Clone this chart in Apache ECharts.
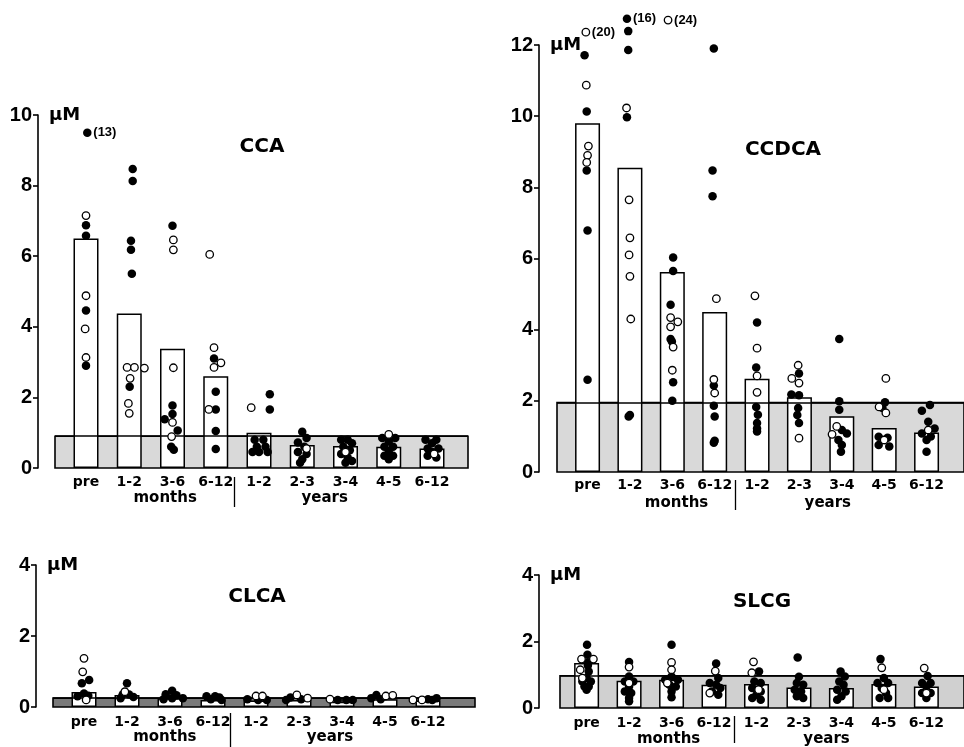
<!DOCTYPE html>
<html><head><meta charset="utf-8">
<script src="https://cdn.jsdelivr.net/npm/echarts@6/dist/echarts.min.js"></script>
<style>html,body{margin:0;padding:0;background:#fff}#c{width:964px;height:747px}</style>
</head><body><div id="c"></div>
<script>
// ---------- data ----------
const categories = ['pre','1-2','3-6','6-12','1-2','2-3','3-4','4-5','6-12'];
const groupLabels = ['months','years'];
const yUnit = 'µM';
const titles = ['CCA','CCDCA','CLCA','SLCG'];
const yMaxes = [10, 12, 4, 4];

// CCA
const ccaMeans = [6.5, 4.38, 3.38, 2.6, 1.0, 0.65, 0.62, 0.6, 0.55];
const ccaRef = 0.9;
const ccaFilled = [
 [0.03,9.5],[0,6.88],[0,6.58],[0,4.46],[0,2.9],
 [1.08,8.47],[1.08,8.13],[1.04,6.44],[1.04,6.18],[1.06,5.5],[1.01,2.3],
 [2.0,6.86],[2.0,1.77],[2.0,1.53],[1.82,1.38],[2.12,1.06],[1.97,0.6],[2.03,0.52],
 [2.96,3.1],[3.0,2.16],[3.0,1.66],[3.0,1.05],[3.0,0.54],
 [4.25,2.09],[4.25,1.66],[3.9,0.8],[4.1,0.8],[3.95,0.6],[4.15,0.6],[4.0,0.45],[4.2,0.45],[3.85,0.45],
 [5.0,1.03],[5.1,0.85],[4.9,0.72],[5.05,0.6],[4.9,0.45],[5.1,0.4],[5.0,0.25],[4.95,0.15],
 [5.9,0.8],[6.05,0.8],[6.15,0.7],[5.95,0.6],[6.1,0.5],[5.9,0.4],[6.05,0.3],[6.0,0.15],[6.15,0.2],
 [6.85,0.85],[7.15,0.85],[7.0,0.75],[6.9,0.6],[7.1,0.6],[7.0,0.45],[6.9,0.35],[7.1,0.35],[7.0,0.25],
 [7.85,0.8],[8.1,0.8],[8.0,0.7],[7.9,0.55],[8.15,0.55],[8.0,0.45],[7.9,0.35],[8.1,0.3]
];
const ccaOpen = [
 [0,7.15],[0,4.88],[-0.02,3.94],[0,3.13],
 [0.95,2.85],[1.12,2.85],[1.35,2.83],[1.02,2.54],[0.98,1.83],[1.0,1.55],
 [2.02,6.46],[2.02,6.18],[2.02,2.84],[2.0,1.29],[1.98,0.89],
 [2.86,6.05],[2.96,3.41],[3.12,2.98],[2.96,2.85],[2.84,1.66],
 [3.82,1.71],[5.1,0.55],[6.0,0.45],[7.0,0.95],[8.05,0.4]
];
const ccaNotes = [[0.03, 9.5, '(13)']];

// CCDCA
const ccdcaMeans = [9.8, 8.55, 5.62, 4.5, 2.62, 2.1, 1.57, 1.24, 1.11];
const ccdcaRef = 1.95;
const ccdcaFilled = [
 [-0.07,11.71],[-0.02,10.13],[-0.02,8.47],[0,6.79],[0,2.59],
 [0.93,12.74],[0.96,12.39],[0.96,11.86],[0.93,9.97],[0.97,1.56],[1.0,1.6],
 [2.02,6.03],[2.02,5.65],[1.96,4.7],[1.96,3.74],[1.99,3.67],[2.02,2.52],[2.0,2.0],
 [2.98,11.9],[2.95,8.47],[2.95,7.75],[2.98,2.43],[2.98,1.86],[3.0,1.56],[3.0,0.88],[2.98,0.82],
 [4.0,4.2],[3.98,2.94],[3.98,1.83],[4.02,1.61],[4.0,1.38],[4.0,1.14],[4.0,1.22],
 [4.99,2.77],[4.81,2.18],[4.99,2.16],[4.97,1.8],[4.95,1.6],[4.99,1.38],
 [5.94,3.74],[5.94,1.99],[5.94,1.75],[6.0,1.18],[6.12,1.08],[5.92,0.9],[5.98,0.57],[6.0,0.76],
 [7.02,1.96],[6.96,1.8],[6.87,0.99],[7.08,0.96],[6.87,0.76],[7.12,0.72],
 [8.08,1.88],[7.89,1.72],[8.04,1.41],[8.19,1.22],[7.89,1.08],[8.0,0.9],[8.0,0.57],[8.1,1.0]
];
const ccdcaOpen = [
 [-0.04,12.36],[-0.03,10.87],[0.02,9.16],[0,8.9],[-0.02,8.7],
 [0.92,10.23],[0.98,7.65],[1.0,6.58],[0.98,6.1],[1.0,5.5],[1.02,4.3],
 [1.9,12.7],[1.96,4.34],[2.13,4.22],[1.96,4.08],[2.02,3.51],[2.0,2.86],
 [3.04,4.87],[2.98,2.6],[3.0,2.22],
 [3.95,4.95],[4.0,3.48],[4.0,2.7],[4.0,2.24],
 [4.97,3.0],[4.82,2.63],[4.99,2.5],[4.99,0.95],
 [5.88,1.28],[5.77,1.06],
 [7.04,2.63],[6.88,1.83],[7.04,1.66],[7.0,0.9],
 [8.04,1.18]
];
const ccdcaNotes = [[-0.04, 12.36, '(20)'], [0.93, 12.74, '(16)'], [1.9, 12.7, '(24)']];

// CLCA
const clcaMeans = [0.42, 0.34, 0.25, 0.2, 0.18, 0.2, 0.15, 0.22, 0.18];
const clcaRef = 0.25;
const clcaFilled = [
 [0.12,0.76],[-0.05,0.67],[0,0.38],[0.1,0.32],[-0.15,0.3],
 [1.0,0.67],[0.9,0.35],[1.05,0.35],[1.15,0.28],[0.85,0.25],
 [2.05,0.46],[1.9,0.36],[2.15,0.33],[2.3,0.25],[1.85,0.22],[2.05,0.25],
 [2.85,0.3],[3.05,0.3],[3.15,0.27],[2.95,0.22],[3.2,0.2],
 [3.8,0.22],[4.05,0.2],[4.25,0.2],
 [4.8,0.27],[5.05,0.22],[4.7,0.2],
 [5.9,0.2],[6.1,0.2],[6.25,0.2],
 [6.8,0.34],[6.68,0.25],[6.9,0.22],
 [8.0,0.22],[8.2,0.25],[8.1,0.2]
];
const clcaOpen = [
 [0,1.37],[-0.03,0.99],[0.05,0.2],
 [0.95,0.43],
 [4.0,0.31],[4.15,0.31],
 [4.95,0.34],[5.2,0.25],
 [5.72,0.22],
 [7.02,0.31],[7.18,0.33],
 [7.65,0.2],[7.86,0.2]
];
const clcaNotes = [];

// SLCG
const slcgMeans = [1.35, 0.82, 0.85, 0.7, 0.72, 0.62, 0.6, 0.72, 0.65];
const slcgRef = 0.97;
const slcgFilled = [
 [0.01,1.9],[0.02,1.6],[0.04,1.37],[0.03,1.28],[0.05,1.1],[0,0.9],[0.1,0.8],[-0.1,0.8],[0.05,0.65],[-0.05,0.65],[0,0.55],
 [1.0,1.38],[1.0,0.95],[0.9,0.8],[1.1,0.8],[1.0,0.65],[0.9,0.5],[1.05,0.45],[1.0,0.3],[1.0,0.2],
 [2.0,1.9],[2.0,0.95],[1.85,0.85],[2.15,0.85],[1.95,0.7],[2.1,0.65],[2.0,0.5],[2.0,0.32],
 [3.05,1.34],[3.1,0.9],[2.9,0.75],[3.05,0.7],[3.15,0.6],[2.95,0.5],[3.1,0.4],
 [4.06,1.1],[3.95,0.8],[4.1,0.75],[3.9,0.6],[4.1,0.5],[4.0,0.4],[3.9,0.3],[4.1,0.25],
 [4.97,1.52],[5.0,0.94],[4.95,0.75],[5.1,0.7],[4.9,0.55],[5.05,0.5],[4.95,0.35],[5.1,0.3],
 [5.98,1.1],[6.08,0.95],[5.95,0.8],[6.05,0.7],[5.9,0.55],[6.1,0.5],[6.0,0.35],[5.9,0.25],
 [6.92,1.47],[7.0,0.9],[6.85,0.75],[7.1,0.75],[6.95,0.6],[7.05,0.45],[6.9,0.3],[7.1,0.3],
 [8.03,0.96],[7.9,0.75],[8.1,0.75],[8.0,0.65],[7.9,0.45],[8.1,0.45],[8.0,0.3]
];
const slcgOpen = [
 [-0.12,1.47],[0.16,1.47],[-0.15,1.15],[-0.1,0.9],
 [1.0,1.23],[1.0,0.75],
 [2.0,1.37],[2.0,1.15],[1.9,0.75],
 [3.03,1.11],[2.9,0.45],
 [3.93,1.39],[3.89,1.06],[4.05,0.55],
 [6.95,1.21],[7.0,0.55],
 [7.95,1.2],[8.0,0.45]
];
const slcgNotes = [];

// ---------- layout (pixels) ----------
const layouts = [
 {left:55, width:413, top:115, height:353, c0:86, step:43.25, axisX:38, band:'#d9d9d9', title:[262,147], catMargin:7,
  grp:{offset:9, len:30, margin:14, pos:[1.83,5.52], div:3.43}},
 {left:557, width:413, top:45, height:427, c0:588, step:43, axisX:539, band:'#d9d9d9', title:[783,150], catMargin:6,
  grp:{offset:8, len:30, margin:16, pos:[2.1,5.67], div:3.49}},
 {left:53, width:422, top:565, height:142, c0:84, step:43, axisX:36, band:'#7a7a7a', title:[257,597], catMargin:8,
  grp:{offset:6, len:34, margin:17, pos:[1.88,5.72], div:3.4}},
 {left:560, width:410, top:575, height:137, c0:587, step:43.1, axisX:539, band:'#d0d0d0', title:[762,602], catMargin:8,
  grp:{offset:8, len:27, margin:16, pos:[1.93,5.65], div:3.48}}
];

const panelData = [
 {means:ccaMeans, ref:ccaRef, filled:ccaFilled, open:ccaOpen, notes:ccaNotes},
 {means:ccdcaMeans, ref:ccdcaRef, filled:ccdcaFilled, open:ccdcaOpen, notes:ccdcaNotes},
 {means:clcaMeans, ref:clcaRef, filled:clcaFilled, open:clcaOpen, notes:clcaNotes},
 {means:slcgMeans, ref:slcgRef, filled:slcgFilled, open:slcgOpen, notes:slcgNotes}
];

const NUMF = 'Liberation Sans';
const TXTF = 'DejaVu Sans';

const grid = [], xAxis = [], yAxis = [], series = [], graphic = [];
const catIdx = categories.map((c, i) => i);

panelData.forEach((p, i) => {
  const L = layouts[i];
  const xmin = -(L.c0 - L.left) / L.step;
  const xmax = xmin + L.width / L.step;
  grid.push({left:L.left, top:L.top, width:L.width, height:L.height});
  xAxis.push({
    gridIndex:i, type:'value', min:xmin, max:xmax,
    axisLine:{show:false, onZero:false}, axisTick:{show:false}, splitLine:{show:false},
    axisLabel:{customValues:catIdx, formatter:v => categories[Math.round(v)], margin:L.catMargin,
      fontFamily:TXTF, fontSize:14, fontWeight:'bold', color:'#000'}
  });
  const gp = L.grp.pos;
  xAxis.push({
    gridIndex:i, type:'value', min:xmin, max:xmax, position:'bottom', offset:L.grp.offset,
    axisLine:{show:false, onZero:false}, splitLine:{show:false},
    axisTick:{show:true, customValues:[L.grp.div], length:L.grp.len, lineStyle:{color:'#000', width:1.3}},
    axisLabel:{customValues:gp, margin:L.grp.margin,
      formatter:v => groupLabels[Math.abs(v - gp[0]) < Math.abs(v - gp[1]) ? 0 : 1],
      fontFamily:TXTF, fontSize:15, fontWeight:'bold', color:'#000'}
  });
  yAxis.push({
    gridIndex:i, type:'value', min:0, max:yMaxes[i], interval:2, offset:L.left - L.axisX,
    name:yUnit, nameLocation:'end', nameGap:0,
    nameTextStyle:{fontFamily:TXTF, fontSize:18, fontWeight:'bold', color:'#000', align:'left', verticalAlign:'middle', padding:[0,0,0,11]},
    axisLine:{show:true, onZero:false, lineStyle:{color:'#000', width:1.6}},
    axisTick:{show:true, length:5, lineStyle:{color:'#000', width:1.6}},
    axisLabel:{fontFamily:NUMF, fontSize:20, fontWeight:'bold', color:'#000', margin:6},
    splitLine:{show:false}
  });
  series.push({
    type:'bar', xAxisIndex:2*i, yAxisIndex:i, barWidth:25, z:2,
    data:p.means.map((v, k) => [k, v]),
    itemStyle:{color:'#fff', borderColor:'#000', borderWidth:1.5},
    markArea:{silent:true, z:1, itemStyle:{color:L.band, borderColor:'#000', borderWidth:1.6},
      data:[[{yAxis:0}, {yAxis:p.ref}]]},
    markLine:{silent:true, z:3, symbol:'none', label:{show:false},
      lineStyle:{color:'#000', type:'solid', width:1.6}, data:[{yAxis:p.ref}]}
  });
  series.push({
    type:'scatter', xAxisIndex:2*i, yAxisIndex:i, z:4, clip:false,
    data:p.filled, symbolSize:8.5, itemStyle:{color:'#000', opacity:1}
  });
  series.push({
    type:'scatter', xAxisIndex:2*i, yAxisIndex:i, z:5, clip:false,
    data:p.open, symbolSize:7.5, itemStyle:{color:'#fff', borderColor:'#000', borderWidth:1.3, opacity:1}
  });
  if (p.notes.length) {
    series.push({
      type:'scatter', xAxisIndex:2*i, yAxisIndex:i, z:6, clip:false, symbolSize:8,
      itemStyle:{color:'rgba(0,0,0,0)', opacity:1},
      data:p.notes.map(n => ({value:[n[0], n[1]], label:{formatter:n[2]}})),
      label:{show:true, position:'right', distance:2, fontFamily:NUMF, fontSize:13, fontWeight:'bold', color:'#000', opacity:1}
    });
  }
  graphic.push({type:'text', x:L.title[0], y:L.title[1], z:10,
    style:{text:titles[i], align:'center', verticalAlign:'middle', font:'bold 20px "' + TXTF + '"', fill:'#000'}});
});

const chart = echarts.init(document.getElementById('c'), null, {renderer:'canvas'});
chart.setOption({animation:false, backgroundColor:'#fff', grid, xAxis, yAxis, series, graphic});
</script></body></html>
